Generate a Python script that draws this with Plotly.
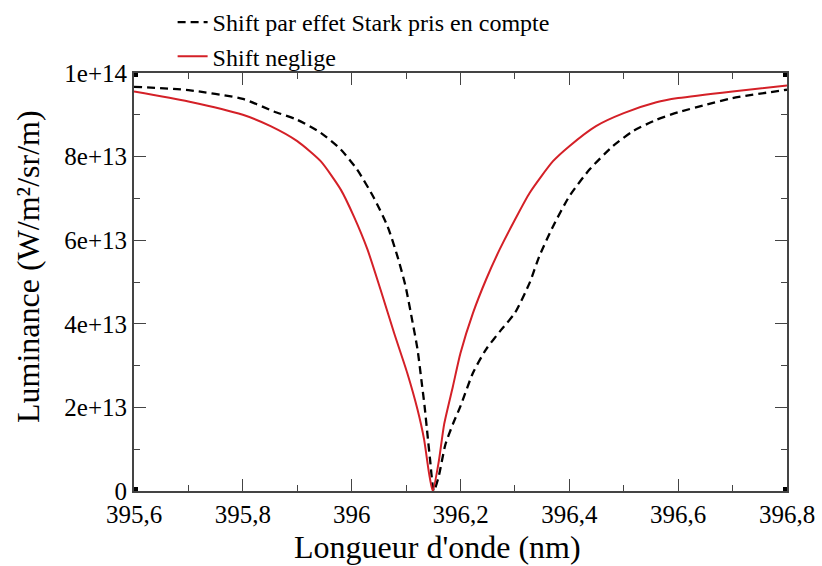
import plotly.graph_objects as go

# Data (wavelength in nm, luminance in W/m²/sr/m)
x_stark = [395.6, 395.7, 395.8, 395.857, 395.9, 395.943, 395.98, 396.01, 396.041, 396.066,
           396.084, 396.099, 396.111, 396.121, 396.128, 396.134, 396.139, 396.144, 396.151,
           396.16, 396.172, 396.186, 396.2, 396.223, 396.247, 396.275, 396.3, 396.327,
           396.345, 396.37, 396.4, 396.437, 396.48, 396.517, 396.56, 396.6, 396.651, 396.7, 396.8]
y_stark = [9.67e13, 9.59e13, 9.38e13, 9.08e13, 8.88e13, 8.57e13, 8.17e13, 7.69e13, 7.01e13, 6.33e13,
           5.62e13, 4.90e13, 4.10e13, 3.39e13, 2.67e13, 2.03e13, 1.39e13, 0.76e13, 0.0,
           0.35e13, 1.10e13, 1.60e13, 2.03e13, 2.83e13, 3.39e13, 3.86e13, 4.26e13, 4.98e13,
           5.62e13, 6.33e13, 7.05e13, 7.69e13, 8.25e13, 8.61e13, 8.88e13, 9.06e13, 9.24e13, 9.40e13, 9.60e13]

x_neglige = [395.6, 395.7, 395.8, 395.851, 395.9, 395.943, 395.98, 396.004, 396.029, 396.053,
             396.078, 396.102, 396.121, 396.133, 396.142, 396.149, 396.16, 396.17, 396.186, 396.2,
             396.223, 396.247, 396.272, 396.3, 396.327, 396.37, 396.4, 396.449, 396.5, 396.56,
             396.6, 396.7, 396.8]
y_neglige = [9.56e13, 9.32e13, 9.00e13, 8.73e13, 8.37e13, 7.89e13, 7.21e13, 6.57e13, 5.78e13, 4.82e13,
             3.78e13, 2.83e13, 1.95e13, 1.24e13, 0.44e13, 0.0, 0.70e13, 1.60e13, 2.50e13, 3.30e13,
             4.26e13, 5.06e13, 5.78e13, 6.49e13, 7.13e13, 7.89e13, 8.25e13, 8.73e13, 9.04e13, 9.30e13,
             9.40e13, 9.56e13, 9.70e13]

series_names = ["Shift par effet Stark pris en compte", "Shift neglige"]

x_tickvals = [395.6, 395.8, 396.0, 396.2, 396.4, 396.6, 396.8]
x_ticktext = ["395,6", "395,8", "396", "396,2", "396,4", "396,6", "396,8"]
y_tickvals = [0, 2e13, 4e13, 6e13, 8e13, 1e14]
y_ticktext = ["0", "2e+13", "4e+13", "6e+13", "8e+13", "1e+14"]

x_title = "Longueur d'onde (nm)"
y_title = "Luminance (W/m²/sr/m)"

FONT = "'Liberation Serif', 'Times New Roman', Times, serif"
AXC = "#444444"

fig = go.Figure()
fig.add_trace(go.Scatter(x=x_stark, y=y_stark, mode="lines", name=series_names[0],
                         line=dict(color="black", width=2.3, dash="8px,5px",
                                   shape="spline", smoothing=0.6)))
fig.add_trace(go.Scatter(x=x_neglige, y=y_neglige, mode="lines", name=series_names[1],
                         line=dict(color="#d42027", width=2, shape="spline", smoothing=0.6)))

x_range = [x_tickvals[0], x_tickvals[-1]]
y_range = [y_tickvals[0], y_tickvals[-1]]

fig.update_layout(
    width=822, height=566,
    margin=dict(l=134, r=35, t=73, b=75, autoexpand=False),
    paper_bgcolor="white", plot_bgcolor="white",
    font=dict(family=FONT, color="black"),
    showlegend=True,
    legend=dict(xref="container", yref="container", x=0.21, y=1.005,
                xanchor="left", yanchor="top",
                font=dict(family=FONT, size=24, color="black"),
                bgcolor="rgba(0,0,0,0)", itemwidth=30, tracegroupgap=0),
    xaxis=dict(range=x_range, tickmode="array", tickvals=x_tickvals, ticktext=x_ticktext,
               showgrid=False, zeroline=False, showline=True, linecolor=AXC, linewidth=2,
               mirror="allticks", ticks="inside", ticklen=12, tickwidth=1.2, tickcolor=AXC,
               tickfont=dict(family=FONT, size=25, color="black"),
               minor=dict(tickmode="linear", tick0=395.6, dtick=0.1, ticks="inside",
                          ticklen=6, tickwidth=1.2, tickcolor=AXC)),
    yaxis=dict(range=y_range, tickmode="array", tickvals=y_tickvals, ticktext=y_ticktext,
               showgrid=False, zeroline=False, showline=True, linecolor=AXC, linewidth=2,
               mirror="allticks", ticks="inside", ticklen=12, tickwidth=1.2, tickcolor=AXC,
               tickfont=dict(family=FONT, size=25, color="black"),
               minor=dict(tickmode="linear", tick0=0, dtick=1e13, ticks="inside",
                          ticklen=6, tickwidth=1.2, tickcolor=AXC)),
    annotations=[
        dict(text=x_title, xref="paper", yref="paper", x=0.4655, y=-0.134,
             xanchor="center", yanchor="middle", showarrow=False,
             font=dict(family=FONT, size=32, color="black")),
        dict(text=y_title, xref="paper", yref="paper", x=-0.1623, y=0.536,
             xanchor="center", yanchor="middle", showarrow=False, textangle=-90,
             font=dict(family=FONT, size=32, color="black")),
    ],
)

# small black squares at the four corners of the frame
shapes = []
for cx in x_range:
    for cy in y_range:
        shapes.append(dict(type="rect", xref="x", yref="y", xsizemode="pixel", ysizemode="pixel",
                           xanchor=cx, yanchor=cy, x0=-4, x1=4, y0=-4, y1=4,
                           fillcolor="black", line=dict(width=0)))
fig.update_layout(shapes=shapes)

fig.write_html("out.html", config={"displayModeBar": False},
               post_script="document.body.style.margin='0';")
